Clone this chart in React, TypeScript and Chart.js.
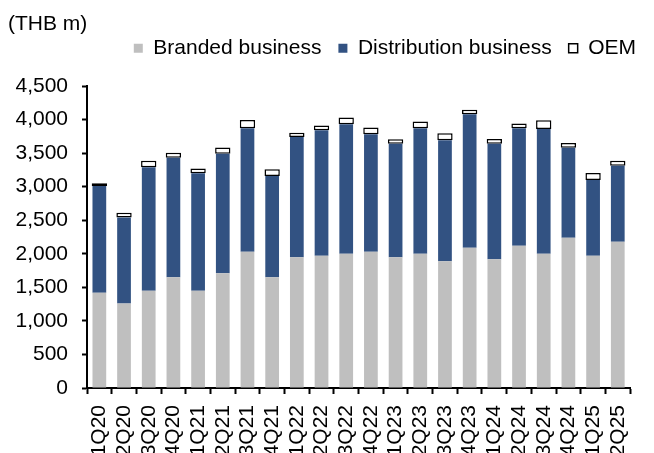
import React, { useEffect, useRef } from "react";
import { Chart, registerables } from "chart.js";

Chart.register(...registerables);

const categories = [
  "1Q20", "2Q20", "3Q20", "4Q20", "1Q21", "2Q21", "3Q21", "4Q21",
  "1Q22", "2Q22", "3Q22", "4Q22", "1Q23", "2Q23", "3Q23", "4Q23",
  "1Q24", "2Q24", "3Q24", "4Q24", "1Q25", "2Q25",
];

const branded = [
  1420, 1260, 1450, 1650, 1450, 1710, 2030, 1650,
  1950, 1970, 2000, 2030, 1950, 2000, 1890, 2090,
  1920, 2120, 2000, 2240, 1970, 2180,
];

const distribution = [
  1590, 1280, 1840, 1780, 1750, 1780, 1840, 1510,
  1790, 1870, 1930, 1750, 1690, 1870, 1800, 1990,
  1720, 1750, 1860, 1340, 1130, 1130,
];

const oem = [
  40, 70, 95, 75, 70, 95, 125, 100,
  65, 70, 100, 100, 65, 100, 105, 65,
  70, 70, 130, 70, 105, 75,
];

const yTicks = { min: 0, max: 4500, step: 500 };

const FONT = "'Liberation Sans', Arial, sans-serif";

export default function App() {
  const ref = useRef<HTMLCanvasElement | null>(null);

  useEffect(() => {
    if (!ref.current) return;
    Chart.defaults.font.family = FONT;
    Chart.defaults.color = "#000";
    const chart = new Chart(ref.current, {
      type: "bar",
      data: {
        labels: categories,
        datasets: [
          {
            label: "Branded business",
            data: branded,
            backgroundColor: "#BFBFBF",
            borderWidth: 0,
            barPercentage: 0.556,
            categoryPercentage: 1,
          },
          {
            label: "Distribution business",
            data: distribution,
            backgroundColor: "#325282",
            borderWidth: 0,
            barPercentage: 0.556,
            categoryPercentage: 1,
          },
          {
            label: "OEM",
            data: oem,
            backgroundColor: "#FFFFFF",
            borderColor: "#000000",
            borderWidth: 1.5,
            borderSkipped: false,
            barPercentage: 0.62,
            categoryPercentage: 1,
          },
        ],
      },
      options: {
        animation: false,
        responsive: true,
        maintainAspectRatio: false,
        events: [],
        layout: { padding: { left: 8, right: 1, top: 0, bottom: 0 } },
        plugins: {
          tooltip: { enabled: false },
          title: {
            display: true,
            text: "(THB m)",
            align: "start",
            color: "#000",
            font: { size: 21, weight: "normal", family: FONT },
            padding: { top: 11.5, bottom: -16 },
            weight: 2000,
          } as any,
          legend: {
            display: true,
            position: "top",
            align: "end",
            weight: 1000,
            labels: {
              boxWidth: 9,
              boxHeight: 9,
              padding: 17,
              color: "#000",
              font: { size: 21, family: FONT },
            },
          } as any,
          subtitle: {
            display: true,
            text: "",
            weight: 500,
            font: { size: 1, lineHeight: 1 },
            padding: { top: 16.3, bottom: 0 },
          } as any,
        },
        scales: {
          x: {
            stacked: true,
            grid: {
              display: true,
              drawOnChartArea: false,
              drawTicks: true,
              tickLength: 6,
              tickWidth: 2,
              tickColor: "#000",
              offset: true,
            },
            border: { display: true, color: "#000", width: 2 },
            ticks: {
              autoSkip: false,
              minRotation: 90,
              maxRotation: 90,
              padding: 11,
              color: "#000",
              font: { size: 21, family: FONT },
            },
            afterFit: (s: any) => {
              s.height = 65;
            },
          },
          y: {
            stacked: true,
            min: yTicks.min,
            max: yTicks.max,
            grid: {
              display: true,
              drawOnChartArea: false,
              drawTicks: true,
              tickLength: 5,
              tickWidth: 2,
              tickColor: "#000",
            },
            border: { display: true, color: "#000", width: 2 },
            ticks: {
              stepSize: yTicks.step,
              padding: 14,
              color: "#000",
              font: { size: 21, family: FONT },
            },
            afterFit: (s: any) => {
              s.width = 79;
            },
          },
        },
      },
    });
    return () => chart.destroy();
  }, []);

  return (
    <div style={{ position: "fixed", left: 0, top: 0, width: 654, height: 453, background: "#fff" }}>
      <canvas ref={ref} />
    </div>
  );
}
